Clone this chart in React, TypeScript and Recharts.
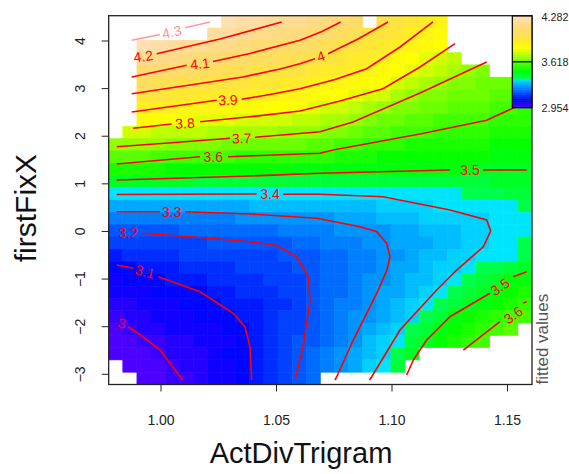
import React from 'react';
import { ComposedChart, XAxis, YAxis, Scatter } from 'recharts';

const N = null;

// ---------- axes ----------
const xTickValues = [1.0, 1.05, 1.1, 1.15];
const yTickValues = [-3, -2, -1, 0, 1, 2, 3, 4];
const gridXLimits = [0.97736, 1.1606];
const gridYLimits = [-3.214, 4.531];
const legendTickLabels = ['4.282', '3.618', '2.954'];
const xTitle = 'ActDivTrigram';
const yTitle = 'firstFixX';
const legendTitle = 'fitted values';

// ---------- fitted values grid (rows top -> bottom, cols left -> right) ----------
const fittedValues: (number | null)[][] = [
  [N,N,N,N,N,N,N,N,4.274,4.253,4.234,4.215,4.197,4.181,4.162,4.135,4.101,4.074,N,4.011,3.981,3.952,3.919,3.887,N,N,N,N,N,N],
  [N,N,N,N,N,N,N,4.227,4.207,4.19,4.174,4.159,4.143,4.128,4.102,4.076,4.05,4.02,3.992,3.969,3.941,3.909,3.88,3.853,N,N,N,N,N,N],
  [N,N,4.255,4.238,4.219,4.199,4.182,4.167,4.151,4.136,4.12,4.105,4.09,4.075,4.051,4.027,4.0,3.976,3.957,3.931,3.9,3.871,3.844,3.818,N,N,N,N,N,N],
  [N,N,4.19,4.171,4.152,4.135,4.123,4.111,4.097,4.081,4.066,4.051,4.037,4.023,4.001,3.98,3.959,3.94,3.922,3.893,3.862,3.835,3.809,3.781,3.755,N,N,N,N,N],
  [N,N,4.119,4.102,4.087,4.072,4.062,4.051,4.038,4.027,4.012,3.998,3.984,3.972,3.954,3.935,3.918,3.903,3.882,3.855,3.825,3.798,3.766,3.739,3.717,3.698,3.687,N,N,N],
  [N,N,4.049,4.035,4.023,4.011,4.001,3.99,3.98,3.971,3.958,3.946,3.934,3.922,3.907,3.888,3.871,3.853,3.835,3.816,3.783,3.748,3.721,3.699,3.686,3.675,3.666,3.656,3.644,3.632],
  [N,N,3.98,3.969,3.958,3.947,3.937,3.926,3.92,3.915,3.904,3.892,3.881,3.87,3.853,3.835,3.819,3.802,3.785,3.765,3.734,3.699,3.685,3.672,3.662,3.652,3.644,3.635,3.623,3.611],
  [N,N,3.914,3.903,3.893,3.882,3.873,3.863,3.857,3.851,3.841,3.831,3.823,3.814,3.799,3.784,3.769,3.752,3.729,3.71,3.689,3.668,3.656,3.646,3.637,3.63,3.623,3.614,3.602,3.591],
  [N,N,3.841,3.831,3.822,3.815,3.808,3.8,3.792,3.785,3.779,3.772,3.766,3.76,3.749,3.736,3.721,3.702,3.68,3.666,3.652,3.637,3.627,3.619,3.613,3.607,3.602,3.592,3.582,3.573],
  [N,3.778,3.769,3.762,3.755,3.749,3.743,3.736,3.73,3.726,3.722,3.716,3.71,3.705,3.7,3.687,3.67,3.653,3.636,3.625,3.615,3.605,3.598,3.592,3.586,3.581,3.577,3.57,3.562,3.555],
  [3.712,3.706,3.7,3.693,3.687,3.68,3.674,3.669,3.665,3.662,3.659,3.654,3.65,3.645,3.642,3.631,3.617,3.603,3.593,3.585,3.578,3.572,3.567,3.562,3.558,3.555,3.552,3.547,3.541,3.537],
  [3.64,3.634,3.627,3.62,3.613,3.605,3.599,3.599,3.598,3.596,3.593,3.59,3.588,3.585,3.583,3.575,3.565,3.557,3.551,3.546,3.542,3.538,3.535,3.532,3.53,3.528,3.527,3.524,3.521,3.519],
  [3.567,3.561,3.556,3.552,3.547,3.543,3.539,3.538,3.537,3.534,3.532,3.529,3.527,3.524,3.521,3.518,3.514,3.511,3.509,3.507,3.505,3.504,3.503,3.502,3.502,3.502,3.501,3.501,3.501,3.501],
  [3.489,3.487,3.484,3.482,3.48,3.478,3.476,3.474,3.472,3.47,3.469,3.467,3.465,3.463,3.461,3.46,3.459,3.46,3.46,3.46,3.462,3.465,3.468,3.47,3.472,3.474,3.476,3.48,3.48,3.48],
  [3.404,3.404,3.404,3.404,3.404,3.404,3.404,3.404,3.404,3.404,3.404,3.404,3.404,3.404,3.404,3.404,3.405,3.407,3.409,3.411,3.414,3.418,3.422,3.425,3.428,3.44,3.445,3.45,3.455,3.46],
  [3.333,3.333,3.333,3.333,3.333,3.333,3.335,3.336,3.338,3.339,3.341,3.344,3.346,3.348,3.35,3.355,3.36,3.365,3.37,3.378,3.39,3.395,3.398,3.402,3.405,3.41,3.415,3.42,3.42,3.435],
  [3.269,3.269,3.269,3.271,3.272,3.273,3.276,3.279,3.281,3.283,3.286,3.29,3.294,3.297,3.299,3.307,3.317,3.325,3.333,3.345,3.355,3.365,3.374,3.383,3.39,3.395,3.4,3.41,3.415,3.42],
  [3.209,3.211,3.212,3.217,3.221,3.226,3.228,3.232,3.235,3.238,3.242,3.248,3.257,3.267,3.275,3.28,3.29,3.296,3.299,3.308,3.32,3.332,3.345,3.357,3.37,3.382,3.394,3.405,3.41,3.415],
  [3.168,3.171,3.175,3.18,3.184,3.188,3.191,3.194,3.196,3.198,3.2,3.206,3.221,3.237,3.241,3.252,3.264,3.275,3.287,3.298,3.312,3.326,3.34,3.354,3.368,3.382,3.397,3.405,3.42,3.435],
  [3.13,3.136,3.143,3.151,3.157,3.163,3.168,3.174,3.178,3.183,3.186,3.188,3.195,3.205,3.22,3.235,3.25,3.264,3.279,3.294,3.31,3.327,3.344,3.361,3.378,3.395,3.41,3.42,3.425,3.44],
  [3.095,3.1,3.111,3.121,3.131,3.138,3.145,3.154,3.161,3.168,3.17,3.173,3.18,3.195,3.212,3.229,3.246,3.264,3.281,3.298,3.317,3.336,3.355,3.375,3.394,3.413,3.431,3.45,3.468,3.487],
  [3.073,3.08,3.088,3.095,3.104,3.114,3.122,3.134,3.143,3.153,3.157,3.163,3.17,3.185,3.207,3.226,3.246,3.265,3.284,3.304,3.325,3.347,3.368,3.39,3.412,3.435,3.458,3.48,3.503,3.525],
  [3.051,3.061,3.07,3.078,3.088,3.095,3.1,3.114,3.126,3.138,3.145,3.155,3.165,3.18,3.206,3.227,3.248,3.268,3.289,3.312,3.336,3.361,3.385,3.41,3.434,3.459,3.484,3.511,3.532,3.555],
  [3.028,3.041,3.051,3.061,3.073,3.082,3.09,3.098,3.108,3.124,3.13,3.14,3.155,3.17,3.206,3.229,3.252,3.275,3.298,3.324,3.351,3.378,3.406,3.436,3.467,3.497,3.52,3.541,3.563,3.585],
  [3.006,3.021,3.033,3.044,3.058,3.068,3.076,3.085,3.094,3.109,3.129,3.149,3.168,3.188,3.209,3.234,3.259,3.284,3.31,3.34,3.37,3.4,3.437,3.474,3.507,3.531,3.555,3.578,3.6,3.62],
  [2.983,3.001,3.015,3.027,3.044,3.054,3.064,3.072,3.083,3.097,3.119,3.142,3.166,3.189,3.214,3.24,3.267,3.294,3.326,3.36,3.393,3.431,3.47,3.506,3.533,3.56,3.586,3.611,3.63,N],
  [2.961,2.982,2.997,3.01,3.029,3.04,3.05,3.06,3.072,3.088,3.115,3.141,3.166,3.192,3.22,3.248,3.277,3.307,3.342,3.377,3.415,3.458,3.501,3.53,3.559,3.589,3.61,N,N,N],
  [2.955,2.962,2.978,2.993,3.015,3.027,3.043,3.059,3.075,3.091,3.113,3.141,3.168,3.196,3.226,3.257,3.288,3.322,3.359,3.395,3.439,3.483,N,N,N,N,N,N,N,N],
  [N,2.955,2.96,2.976,3.0,3.018,3.036,3.054,3.072,3.09,3.112,3.142,3.172,3.202,3.234,3.267,3.3,3.339,3.377,3.417,3.46,N,N,N,N,N,N,N,N,N],
  [N,N,2.954,2.959,2.986,3.007,3.027,3.047,3.067,3.087,3.112,3.144,3.176,3.209,3.244,N,N,N,N,N,N,N,N,N,N,N,N,N,N,N],
];

// ---------- contour lines (x = ActDivTrigram, y = firstFixX) ----------
const contourSegments: { level: string; faded?: boolean; points: number[][] }[] = [
  { level: '4.3', faded: true, points: [[0.98732,4.015],[0.99957,4.137]] },
  { level: '4.3', faded: true, points: [[1.01039,4.279],[1.02121,4.399]] },
  { level: '4.2', points: [[0.99814,3.733],[1.02554,4.042],[1.05225,4.399]] },
  { level: '4.1', points: [[0.98732,3.244],[1.01113,3.49]] },
  { level: '4.1', points: [[1.02251,3.569],[1.03853,3.737],[1.06017,4.015],[1.0697,4.2],[1.07779,4.399]] },
  { level: '4', points: [[0.98732,2.893],[1.01255,3.076],[1.0355,3.244],[1.05152,3.412],[1.06017,3.523],[1.06667,3.628]] },
  { level: '4', points: [[1.07229,3.733],[1.08528,4.042],[1.09827,4.399]] },
  { level: '3.9', points: [[0.98732,2.509],[1.00606,2.635],[1.02411,2.754]] },
  { level: '3.9', points: [[1.03494,2.775],[1.04719,2.876],[1.06017,2.998],[1.07532,3.191],[1.08905,3.418],[1.10346,3.874],[1.11775,4.399]] },
  { level: '3.8', points: [[0.98801,2.166],[1.00463,2.257]] },
  { level: '3.8', points: [[1.01688,2.305],[1.03853,2.408],[1.06017,2.53],[1.07749,2.74],[1.0961,2.998],[1.11212,3.454],[1.12727,3.943]] },
  { level: '3.7', points: [[0.98082,1.78],[1.00606,1.868],[1.02987,1.956]] },
  { level: '3.7', points: [[1.04069,1.977],[1.06883,2.095],[1.08312,2.299],[1.11212,2.908],[1.141,3.559]] },
  { level: '3.6', points: [[0.98082,1.417],[1.01688,1.57]] },
  { level: '3.6', points: [[1.029,1.57],[1.06883,1.641],[1.07446,1.711],[1.11212,2.047],[1.141,2.334],[1.15182,2.578],[1.15758,2.74]] },
  { level: '3.5', points: [[0.98082,1.08],[1.03853,1.164],[1.06883,1.221],[1.12511,1.29]] },
  { level: '3.5', points: [[1.13939,1.29],[1.15831,1.29]] },
  { level: '3.4', points: [[0.98082,0.776],[1.04143,0.786]] },
  { level: '3.4', points: [[1.05281,0.78],[1.06883,0.78],[1.0961,0.73],[1.12511,0.45],[1.141,0.24],[1.14273,0.009],[1.13952,-0.321],[1.12801,-0.81],[1.11935,-1.23],[1.10346,-2.07],[1.09121,-3.051],[1.09026,-3.12]] },
  { level: '3.3', points: [[0.98082,0.415],[0.99957,0.415]] },
  { level: '3.3', points: [[1.01039,0.415],[1.03853,0.366],[1.0674,0.276],[1.08615,0.1],[1.09338,-0.005],[1.0977,-0.249],[1.09913,-0.531],[1.09784,-0.81],[1.09338,-1.299],[1.08325,-2.28],[1.07606,-3.051],[1.07532,-3.12]] },
  { level: '3.2', points: [[0.99165,-0.039],[1.01688,-0.127],[1.03853,-0.216],[1.05009,-0.295],[1.05874,-0.531],[1.06377,-0.957],[1.0645,-1.44],[1.0616,-2.385],[1.05801,-3.12]] },
  { level: '3.1', points: [[0.98082,-0.705],[0.98801,-0.774]] },
  { level: '3.1', points: [[0.99883,-0.951],[1.01688,-1.266],[1.0313,-1.719],[1.03636,-2.001],[1.03853,-2.421],[1.03926,-3.12]] },
  { level: '3', points: [[0.98584,-2.001],[0.99307,-2.238],[0.99957,-2.49],[1.00939,-3.12]] },
  { level: '3.5', points: [[1.15831,-0.846],[1.15251,-0.951]] },
  { level: '3.5', points: [[1.14242,-1.299],[1.12511,-1.791],[1.11502,-2.28],[1.10922,-2.7],[1.10636,-3.015]] },
  { level: '3.6', points: [[1.15684,-1.503],[1.15831,-1.476]] },
  { level: '3.6', points: [[1.14675,-1.896],[1.13087,-2.49]] },
];

const contourLabels = [
  { x: 1.00463, y: 4.189, text: '4.3', angle: -12, faded: true },
  { x: 0.99234, y: 3.679, text: '4.2', angle: -8 },
  { x: 1.01688, y: 3.523, text: '4.1', angle: -6 },
  { x: 1.06926, y: 3.679, text: '4', angle: -18 },
  { x: 1.029, y: 2.761, text: '3.9', angle: -2 },
  { x: 1.01039, y: 2.271, text: '3.8', angle: -3 },
  { x: 1.03494, y: 1.956, text: '3.7', angle: -1 },
  { x: 1.02264, y: 1.57, text: '3.6', angle: 0 },
  { x: 1.13377, y: 1.29, text: '3.5', angle: 0 },
  { x: 1.04719, y: 0.78, text: '3.4', angle: 0 },
  { x: 1.00463, y: 0.415, text: '3.3', angle: 0 },
  { x: 0.98584, y: -0.026, text: '3.2', angle: 0 },
  { x: 0.99307, y: -0.846, text: '3.1', angle: 15 },
  { x: 0.98299, y: -1.929, text: '3', angle: 10 },
  { x: 1.14675, y: -1.161, text: '3.5', angle: -35 },
  { x: 1.15251, y: -1.755, text: '3.6', angle: -35 },
];

// ---------- layout ----------
const W = 561;
const H = 466;
const PLOT_L = 100.7;
const PLOT_T = 7.7;
const PLOT_R = 524;
const PLOT_B = 376.5;
const PLOT_W = PLOT_R - PLOT_L;
const PLOT_H = PLOT_B - PLOT_T;
const Y_AXIS_W = 60;
const X_AXIS_H = 40;
const FONT = '"Liberation Sans", Arial, Helvetica, sans-serif';

// ---------- colour scale (topo.colors, 50 steps) ----------
function hsv(h: number, s: number, v: number) {
  const i = Math.floor(h * 6);
  const f = h * 6 - i;
  const p = v * (1 - s);
  const q = v * (1 - f * s);
  const t = v * (1 - (1 - f) * s);
  let r = 0, g = 0, b = 0;
  switch (((i % 6) + 6) % 6) {
    case 0: r = v; g = t; b = p; break;
    case 1: r = q; g = v; b = p; break;
    case 2: r = p; g = v; b = t; break;
    case 3: r = p; g = q; b = v; break;
    case 4: r = t; g = p; b = v; break;
    default: r = v; g = p; b = q;
  }
  const c = (x: number) => Math.round(x * 255);
  return `rgb(${c(r)},${c(g)},${c(b)})`;
}
function topo(idx: number) {
  if (idx < 16) return hsv((43 - (12 * idx) / 15) / 60, 1, 1);
  if (idx < 32) { const m = idx - 16; return hsv((23 - (12 * m) / 15) / 60, 1, 1); }
  const m = idx - 32;
  return hsv((10 - (4 * m) / 17) / 60, 1 - (0.7 * m) / 17, 1);
}
const clamp = (v: number, a: number, b: number) => Math.max(a, Math.min(b, v));
function paletteIndex(v: number) {
  if (v < 3.43) return clamp(Math.floor(((v - 2.954) / (3.43 - 2.954)) * 16), 0, 15);
  if (v < 3.81) return 16 + clamp(Math.floor(((v - 3.43) / 0.38) * 16), 0, 15);
  return 32 + clamp(Math.floor(((v - 3.81) / 0.47) * 18), 0, 17);
}
const valueColor = (v: number) => topo(paletteIndex(v));

// ---------- derived cell data ----------
const nRows = fittedValues.length;
const nCols = fittedValues[0].length;
const cellDX = (gridXLimits[1] - gridXLimits[0]) / nCols;
const cellDY = (gridYLimits[1] - gridYLimits[0]) / nRows;
const cellData: { x: number; y: number; v: number }[] = [];
fittedValues.forEach((row, j) =>
  row.forEach((v, k) => {
    if (v != null) cellData.push({ x: gridXLimits[0] + (k + 0.5) * cellDX, y: gridYLimits[1] - (j + 0.5) * cellDY, v });
  })
);
const cellPxW = PLOT_W / nCols;
const cellPxH = PLOT_H / nRows;

const CellShape = (props: any) => {
  const { cx, cy, payload } = props;
  if (cx == null || cy == null) return <g />;
  const c = valueColor(payload.v);
  return <rect x={cx - cellPxW / 2} y={cy - cellPxH / 2} width={cellPxW} height={cellPxH} fill={c} stroke={c} strokeWidth={0.6} />;
};
const NoShape = () => <g />;
const LabelShape = (props: any) => {
  const { cx, cy, payload } = props;
  if (cx == null || cy == null) return <g />;
  return (
    <text x={cx} y={cy} transform={`rotate(${payload.angle} ${cx} ${cy})`} textAnchor="middle" dominantBaseline="central"
      fontSize={14} fontFamily={FONT} fill="#ff0000" opacity={payload.faded ? 0.45 : 1}>
      {payload.text}
    </text>
  );
};

const fmtY = (v: number) => (v < 0 ? '\u2212' + Math.abs(v) : String(v));
const XTick = (props: any) => {
  const { x, payload } = props;
  return <text x={x} y={PLOT_B + 35} textAnchor="middle" dominantBaseline="central" fontSize={14} fontFamily={FONT} fill="#222">{Number(payload.value).toFixed(2)}</text>;
};
const Y_LABEL_X = PLOT_L - 29;
const YTick = (props: any) => {
  const { y, payload } = props;
  return <text x={Y_LABEL_X} y={y} transform={`rotate(-90 ${Y_LABEL_X} ${y})`} textAnchor="middle" dominantBaseline="central" fontSize={14} fontFamily={FONT} fill="#222">{fmtY(payload.value)}</text>;
};

// colour bar geometry
const CB_X = 504.3;
const CB_Y = 8;
const CB_W = PLOT_R - CB_X;
const CB_H = 91.7;
const nColours = 50;

export default function App() {
  const yTitleY = (PLOT_T + PLOT_B) / 2 + 8;
  return (
    <div style={{ position: 'relative', width: W, height: H }}>
      <style>{'body{margin:8px 0 0 8px;}'}</style>
      <ComposedChart width={W} height={H} margin={{ top: PLOT_T, right: W - PLOT_R, bottom: H - PLOT_B - X_AXIS_H, left: PLOT_L - Y_AXIS_W }}>
        <XAxis type="number" dataKey="x" domain={gridXLimits} allowDataOverflow ticks={xTickValues} interval={0}
          height={X_AXIS_H} tickSize={7} axisLine={false} tickLine={{ stroke: '#222' }} stroke="#222" tick={<XTick />} />
        <YAxis type="number" dataKey="y" domain={gridYLimits} allowDataOverflow ticks={yTickValues} interval={0}
          width={Y_AXIS_W} tickSize={7} axisLine={false} tickLine={{ stroke: '#222' }} stroke="#222" tick={<YTick />} />
        <Scatter data={cellData} shape={<CellShape />} isAnimationActive={false} />
        {contourSegments.map((seg, i) => (
          <Scatter key={'c' + i} data={seg.points.map(([x, y]) => ({ x, y }))} shape={<NoShape />}
            fill="#ff0000" stroke="#ff0000" line={{ stroke: '#ff0000', strokeWidth: 1.6, strokeOpacity: seg.faded ? 0.4 : 1 }}
            lineType="joint" isAnimationActive={false} />
        ))}
        <Scatter data={contourLabels} shape={<LabelShape />} isAnimationActive={false} />
      </ComposedChart>
      <svg width={W} height={H} style={{ position: 'absolute', left: 0, top: 0, pointerEvents: 'none' }}>
        <rect x={PLOT_L} y={PLOT_T} width={PLOT_W} height={PLOT_H} fill="none" stroke="#222" strokeWidth={1.3} />
        {Array.from({ length: nColours }, (_, i) => (
          <rect key={i} x={CB_X} y={CB_Y + CB_H - ((i + 1) * CB_H) / nColours} width={CB_W} height={CB_H / nColours + 0.4} fill={topo(i)} />
        ))}
        <rect x={CB_X} y={CB_Y} width={CB_W} height={CB_H} fill="none" stroke="#000" strokeWidth={1.2} />
        <line x1={CB_X} x2={PLOT_R} y1={CB_Y + CB_H / 2} y2={CB_Y + CB_H / 2} stroke="#000" strokeWidth={1.2} />
        {legendTickLabels.map((t, i) => (
          <text key={t} x={533.5} y={CB_Y + (i * CB_H) / 2 + 0.5} dominantBaseline="central" fontSize={10.8} fontFamily={FONT} fill="#222">{t}</text>
        ))}
        <text x={540} y={PLOT_B} transform={`rotate(-90 540 ${PLOT_B})`} textAnchor="start" fontSize={17} fontFamily={FONT} fill="#555">{legendTitle}</text>
        <text x={293} y={455} textAnchor="middle" fontSize={29} fontFamily={FONT} fill="#111">{xTitle}</text>
        <text x={28} y={yTitleY} transform={`rotate(-90 28 ${yTitleY})`} textAnchor="middle" fontSize={30} fontFamily={FONT} fill="#111">{yTitle}</text>
      </svg>
    </div>
  );
}
